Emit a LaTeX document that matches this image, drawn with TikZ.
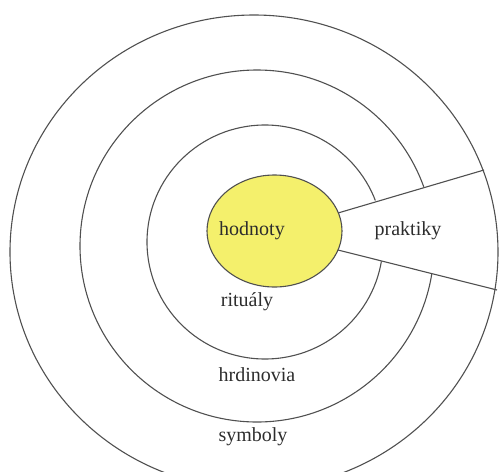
\documentclass[tikz,border=0pt]{standalone}
\usepackage{fontspec}
\setmainfont{Liberation Serif}
\usetikzlibrary{shapes.geometric}
\definecolor{ringline}{RGB}{80,80,80}
\definecolor{txt}{RGB}{45,45,45}
\definecolor{core}{RGB}{244,240,108}
\tikzset{
  ring/.style={draw=ringline, line width=1.1pt},
  lbl/.style={text=txt, font=\fontsize{20}{23}\selectfont, inner sep=0pt},
}
\begin{document}
\begin{tikzpicture}[x=1pt,y=-1pt]
\useasboundingbox (0,0) rectangle (499,472);
\clip (0,0) rectangle (499,472);
% rings
\draw[ring] (257,246) ellipse [x radius=177, y radius=176];
\draw[ring] (265,242) ellipse [x radius=118, y radius=117];
% wedge cut-out
\coordinate (w1) at (338,213);
\coordinate (w2) at (484,170);
\coordinate (w3) at (338,250);
\coordinate (w4) at (497,290);
\fill[white] (320,216) -- (w2) -- (499,165) -- (499,296) -- (w4) -- (320,246) -- cycle;
% outer ring
\draw[ring] (254,252) ellipse [x radius=244, y radius=237];
\draw[ring] (w1) -- (w2);
\draw[ring] (w3) -- (w4);
% core
\node[ellipse, draw=ringline, line width=1.1pt, fill=core, minimum width=135pt, minimum height=112pt] (hodn) at (274.5,231) {};
% labels
\node[lbl] (hodnoty) at (252,231) {hodnoty};
\node[lbl] (praktiky) at (408,231) {praktiky};
\node[lbl] (ritualy) at (247,302) {rituály};
\node[lbl] (hrdinovia) at (257,375) {hrdinovia};
\node[lbl] (symboly) at (253,437) {symboly};
\end{tikzpicture}
\end{document}
